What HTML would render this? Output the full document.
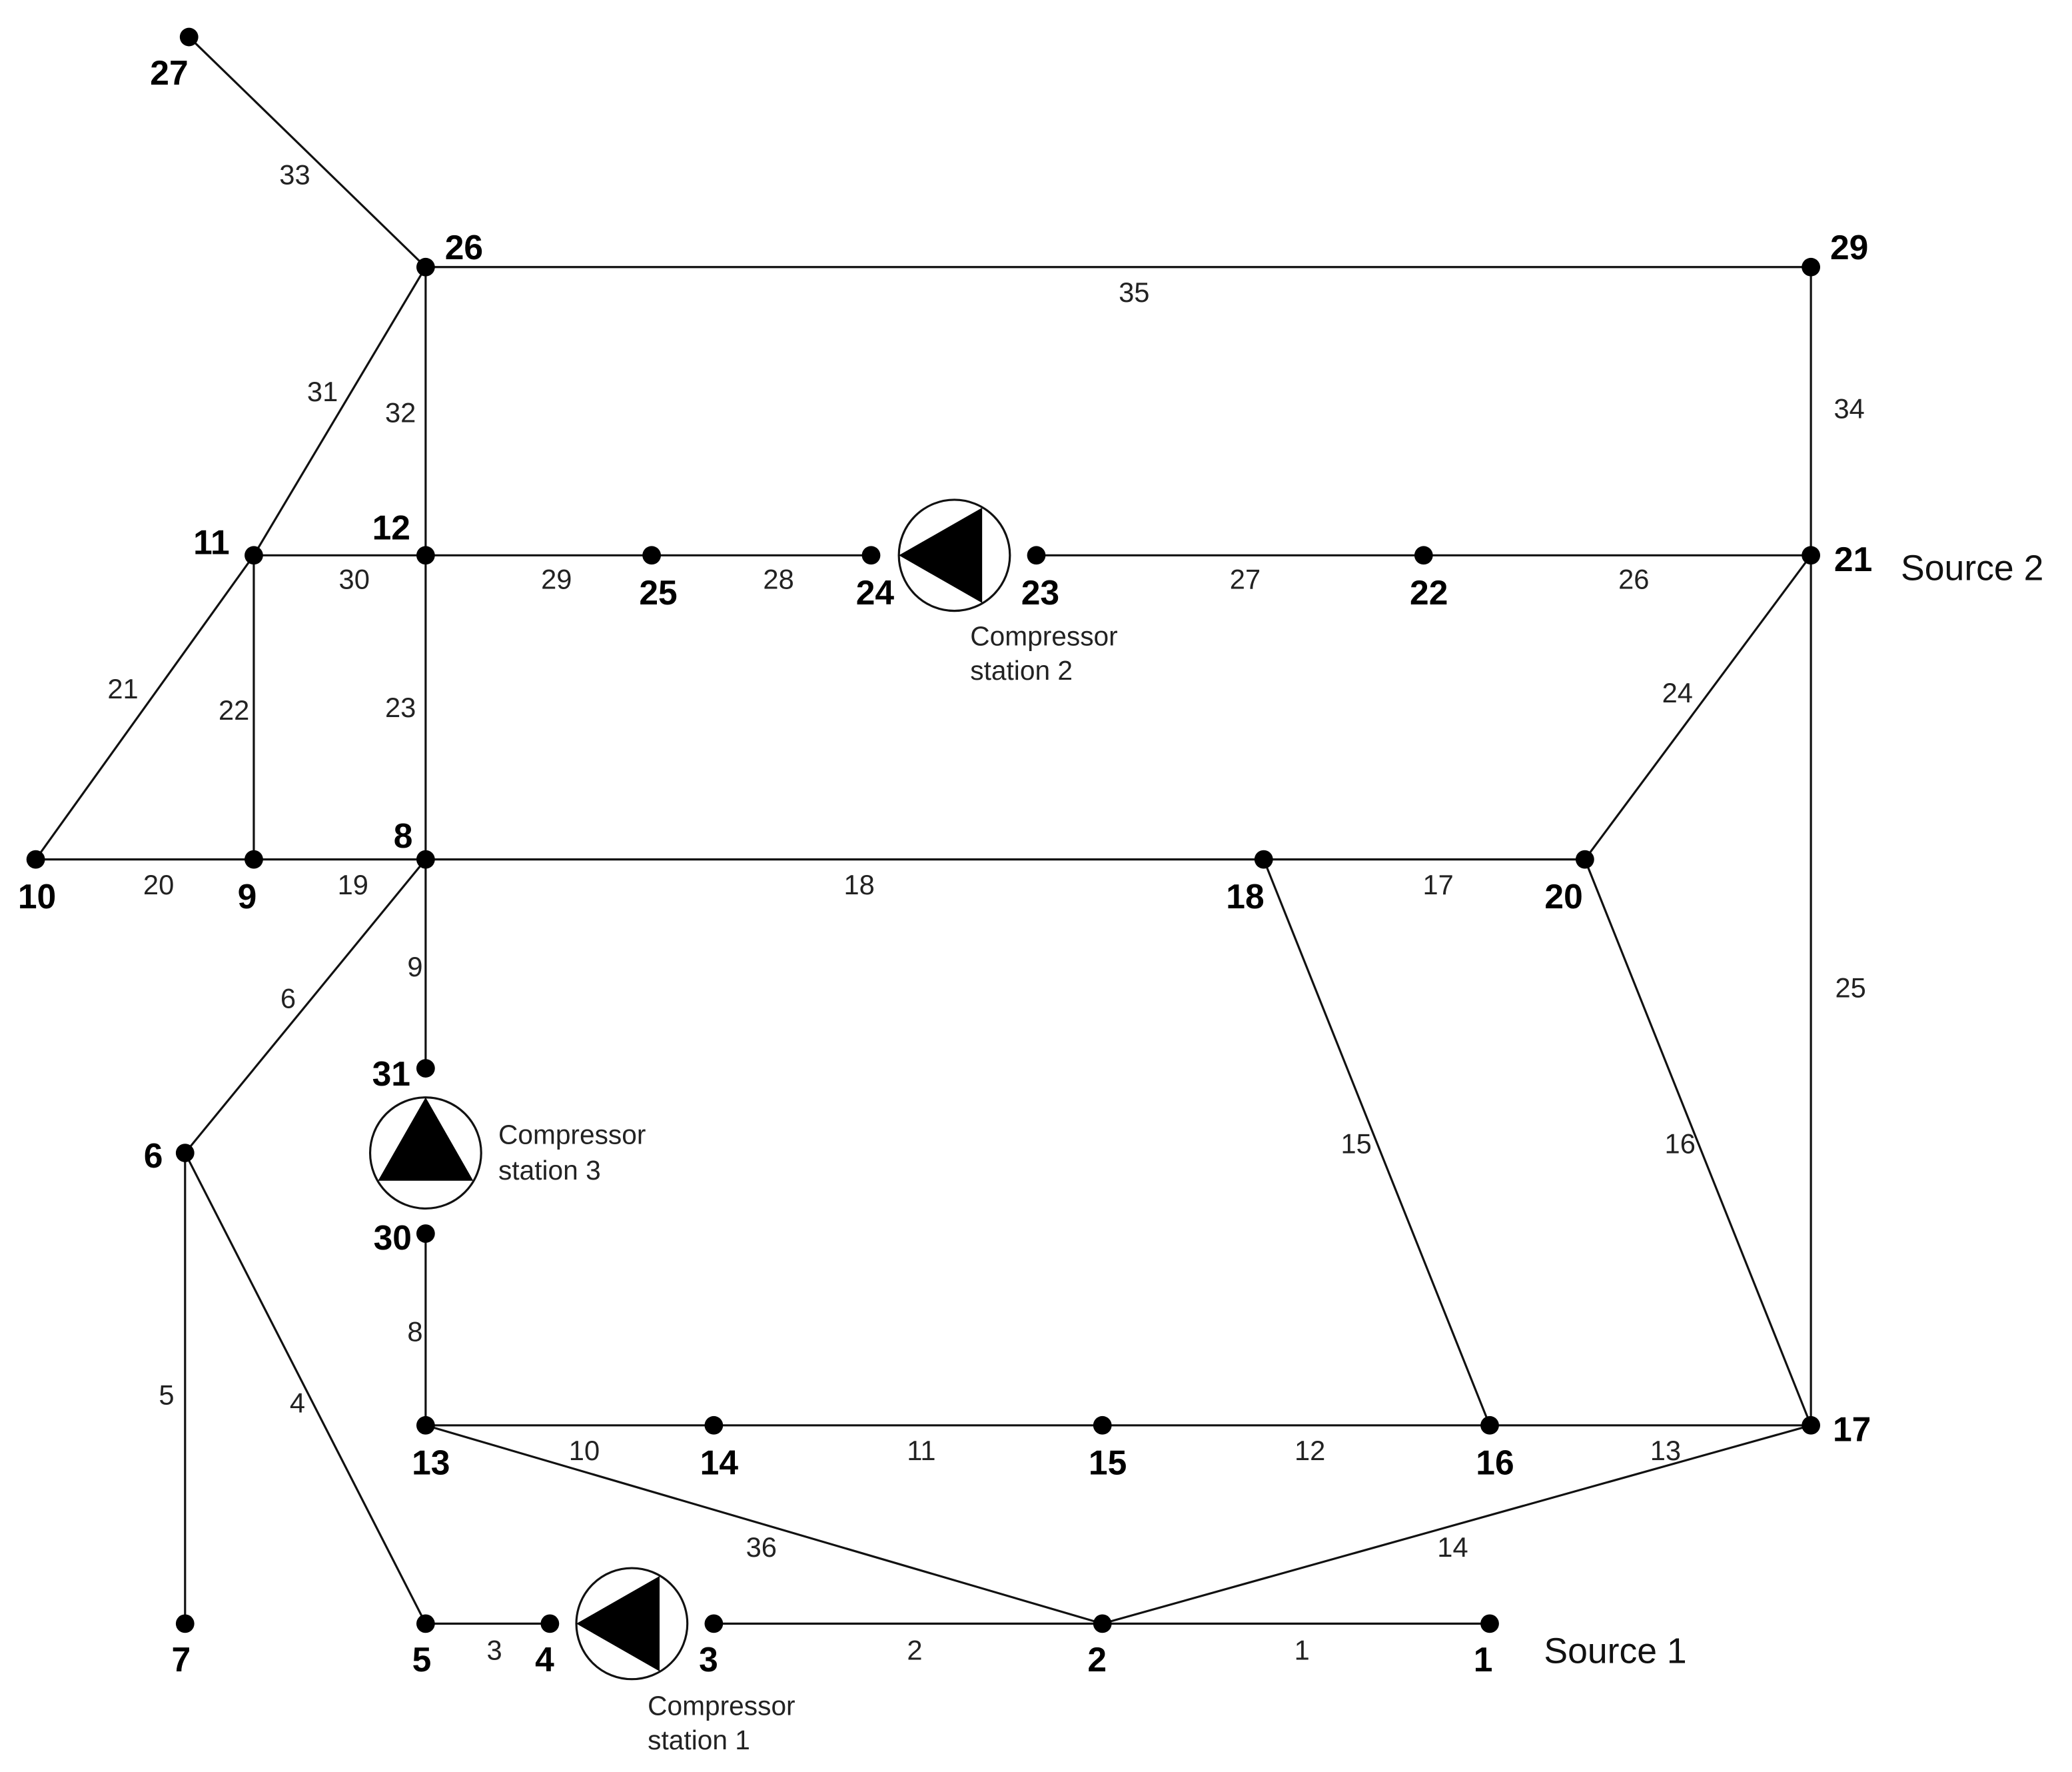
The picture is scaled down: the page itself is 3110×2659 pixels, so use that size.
<!DOCTYPE html>
<html><head><meta charset="utf-8"><style>html,body{margin:0;padding:0;background:#fff}svg{display:block}</style></head>
<body>
<svg width="3110" height="2659" viewBox="0 0 1567.5 1340.2" xmlns="http://www.w3.org/2000/svg" font-family="Liberation Sans, Arial, sans-serif">
<g stroke="#111" stroke-width="1.6" fill="none">
<line x1="143" y1="28" x2="322" y2="202"/>
<line x1="322" y1="202" x2="1370" y2="202"/>
<line x1="322" y1="202" x2="192" y2="420"/>
<line x1="322" y1="202" x2="322" y2="420"/>
<line x1="1370" y1="202" x2="1370" y2="1078"/>
<line x1="192" y1="420" x2="659" y2="420"/>
<line x1="784" y1="420" x2="1370" y2="420"/>
<line x1="192" y1="420" x2="27" y2="650"/>
<line x1="192" y1="420" x2="192" y2="650"/>
<line x1="322" y1="420" x2="322" y2="650"/>
<line x1="27" y1="650" x2="1199" y2="650"/>
<line x1="1199" y1="650" x2="1370" y2="420"/>
<line x1="322" y1="650" x2="140" y2="872"/>
<line x1="322" y1="650" x2="322" y2="808"/>
<line x1="322" y1="933" x2="322" y2="1078"/>
<line x1="140" y1="872" x2="140" y2="1228"/>
<line x1="140" y1="872" x2="322" y2="1228"/>
<line x1="322" y1="1228" x2="416" y2="1228"/>
<line x1="540" y1="1228" x2="1127" y2="1228"/>
<line x1="322" y1="1078" x2="1370" y2="1078"/>
<line x1="322" y1="1078" x2="834" y2="1228"/>
<line x1="834" y1="1228" x2="1370" y2="1078"/>
<line x1="956" y1="650" x2="1127" y2="1078"/>
<line x1="1199" y1="650" x2="1370" y2="1078"/>
<circle cx="722" cy="420" r="42"/>
<circle cx="322" cy="872" r="42"/>
<circle cx="478" cy="1228" r="42"/>
</g>
<g fill="#000">
<polygon points="680,420 743,384 743,456"/>
<polygon points="436,1228 499,1192 499,1264"/>
<polygon points="322,830 286,893 358,893"/>
<g>
<circle cx="143" cy="28" r="7"/><circle cx="322" cy="202" r="7"/><circle cx="1370" cy="202" r="7"/>
<circle cx="192" cy="420" r="7"/><circle cx="322" cy="420" r="7"/><circle cx="493" cy="420" r="7"/>
<circle cx="659" cy="420" r="7"/><circle cx="784" cy="420" r="7"/><circle cx="1077" cy="420" r="7"/>
<circle cx="1370" cy="420" r="7"/><circle cx="27" cy="650" r="7"/><circle cx="192" cy="650" r="7"/>
<circle cx="322" cy="650" r="7"/><circle cx="956" cy="650" r="7"/><circle cx="1199" cy="650" r="7"/>
<circle cx="322" cy="808" r="7"/><circle cx="322" cy="933" r="7"/><circle cx="140" cy="872" r="7"/>
<circle cx="322" cy="1078" r="7"/><circle cx="540" cy="1078" r="7"/><circle cx="834" cy="1078" r="7"/>
<circle cx="1127" cy="1078" r="7"/><circle cx="1370" cy="1078" r="7"/><circle cx="140" cy="1228" r="7"/>
<circle cx="322" cy="1228" r="7"/><circle cx="416" cy="1228" r="7"/><circle cx="540" cy="1228" r="7"/>
<circle cx="834" cy="1228" r="7"/><circle cx="1127" cy="1228" r="7"/>
</g>
<g font-size="26" font-weight="bold" text-anchor="middle" dominant-baseline="central">
<text x="128" y="55">27</text><text x="351" y="187">26</text><text x="1399" y="187">29</text>
<text x="160" y="410">11</text><text x="296" y="399">12</text><text x="498" y="448">25</text>
<text x="662" y="448">24</text><text x="787" y="448">23</text><text x="1081" y="448">22</text>
<text x="1402" y="423">21</text><text x="28" y="678">10</text><text x="187" y="678">9</text>
<text x="305" y="632">8</text><text x="942" y="678">18</text><text x="1183" y="678">20</text>
<text x="296" y="812">31</text><text x="297" y="936">30</text><text x="116" y="874">6</text>
<text x="326" y="1106">13</text><text x="544" y="1106">14</text><text x="838" y="1106">15</text>
<text x="1131" y="1106">16</text><text x="1401" y="1081">17</text><text x="137" y="1255">7</text>
<text x="319" y="1255">5</text><text x="412" y="1255">4</text><text x="536" y="1255">3</text>
<text x="830" y="1255">2</text><text x="1122" y="1255">1</text>
</g>
<g font-size="21" text-anchor="middle" dominant-baseline="central" fill="#222">
<text x="223" y="132">33</text><text x="858" y="221">35</text><text x="244" y="296">31</text>
<text x="303" y="312">32</text><text x="1399" y="309">34</text><text x="268" y="438">30</text>
<text x="421" y="438">29</text><text x="589" y="438">28</text><text x="942" y="438">27</text>
<text x="1236" y="438">26</text><text x="93" y="521">21</text><text x="177" y="537">22</text>
<text x="303" y="535">23</text><text x="1269" y="524">24</text><text x="120" y="669">20</text>
<text x="267" y="669">19</text><text x="650" y="669">18</text><text x="1088" y="669">17</text>
<text x="314" y="731">9</text><text x="218" y="755">6</text><text x="1400" y="747">25</text>
<text x="1026" y="865">15</text><text x="1271" y="865">16</text><text x="314" y="1007">8</text>
<text x="126" y="1055">5</text><text x="225" y="1061">4</text><text x="442" y="1097">10</text>
<text x="697" y="1097">11</text><text x="991" y="1097">12</text><text x="1260" y="1097">13</text>
<text x="576" y="1170">36</text><text x="1099" y="1170">14</text><text x="374" y="1248">3</text>
<text x="692" y="1248">2</text><text x="985" y="1248">1</text>
</g>
<g font-size="20.5" dominant-baseline="central" fill="#222">
<text x="734" y="481">Compressor</text><text x="734" y="507">station 2</text>
<text x="377" y="858">Compressor</text><text x="377" y="885">station 3</text>
<text x="490" y="1290">Compressor</text><text x="490" y="1316">station 1</text>
</g>
<g font-size="27" dominant-baseline="central" fill="#111">
<text x="1438" y="430">Source 2</text>
<text x="1168" y="1249">Source 1</text>
</g>
</g>
</svg>
</body></html>
